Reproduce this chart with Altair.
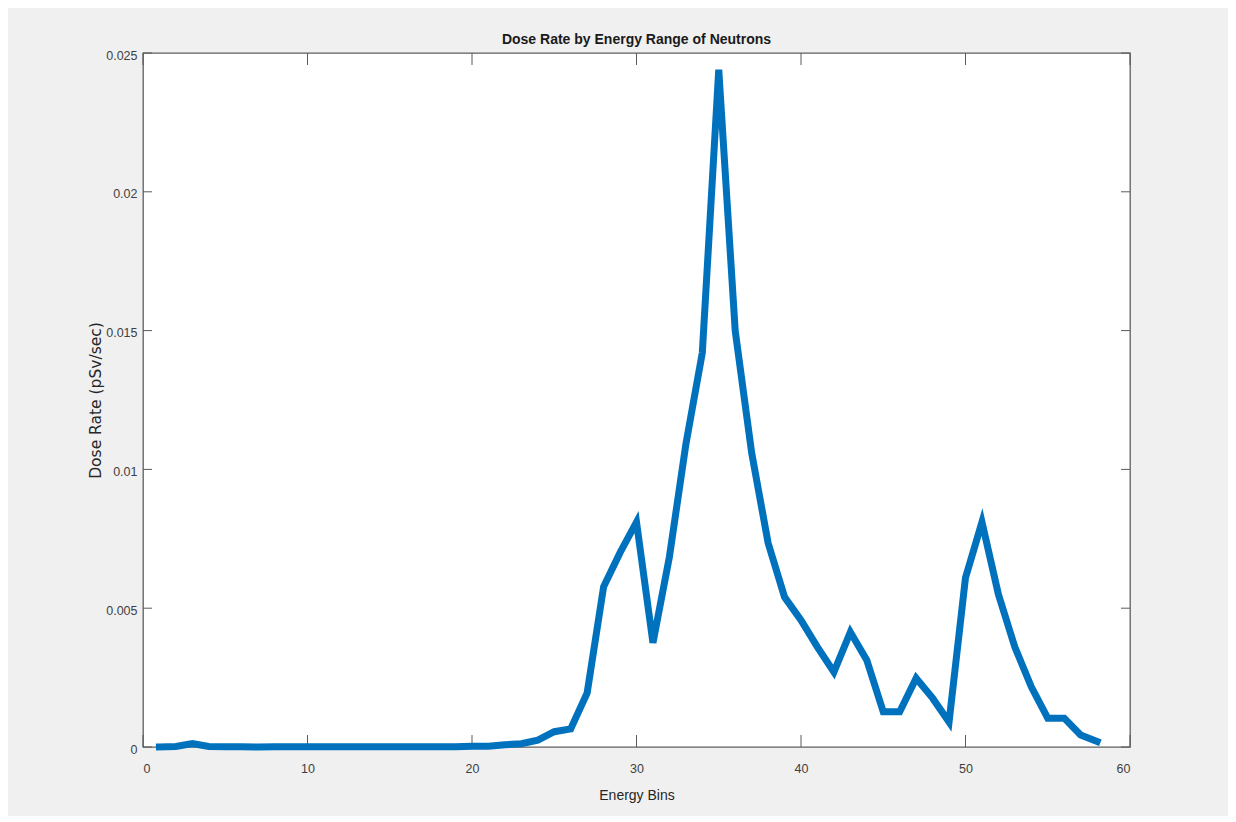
import altair as alt
import pandas as pd

# Data
energy_bins = list(range(1, 59))
dose_rate = [
    0.0, 0.00002, 0.00012, 0.00002, 0.00001, 0.00001, 0.0, 0.00001, 0.00001, 0.00001,
    0.00001, 0.00001, 0.00001, 0.00001, 0.00001, 0.00001, 0.00001, 0.00001, 0.00001, 0.00003,
    0.00003, 0.00008, 0.00012, 0.00025, 0.00055, 0.00065, 0.00195, 0.00577, 0.0070, 0.0081,
    0.00375, 0.00685, 0.0109, 0.0142, 0.0244, 0.0150, 0.0106, 0.00735, 0.0054, 0.00457,
    0.0036, 0.0027, 0.00414, 0.00313, 0.00127, 0.00127, 0.00248, 0.00176, 0.0009, 0.0061,
    0.0081, 0.0055, 0.0036, 0.00217, 0.00104, 0.00104, 0.00043, 0.0002,
]
x_ticks = [0, 10, 20, 30, 40, 50, 60]
y_ticks = [0, 0.005, 0.01, 0.015, 0.02, 0.025]

W, H = 987, 694
FONT = "Liberation Sans"
TICK_COLOR = "#5a5a5a"
LABEL_COLOR = "#404040"

df = pd.DataFrame({"bin": energy_bins, "dose": dose_rate})
xt = pd.DataFrame({"t": x_ticks})
yt = pd.DataFrame({"t": y_ticks})

x_scale = alt.Scale(domain=[0, 60], nice=False, zero=False)
y_scale = alt.Scale(domain=[0, 0.025], nice=False)

x_axis = alt.Axis(
    values=x_ticks, grid=False, domain=False, ticks=False, tickSize=0,
    labelPadding=15, labelFont=FONT, labelFontSize=12.5, labelColor=LABEL_COLOR,
    title="Energy Bins", titleFont=FONT, titleFontSize=14, titleFontWeight="normal",
    titleColor="#262626", titleX=W / 2, titleY=48, titleBaseline="middle", titleAlign="center",
)
y_axis = alt.Axis(
    values=y_ticks, format="~g", grid=False, domain=False, ticks=False, tickSize=0,
    labelPadding=6, labelOffset=2, labelFont=FONT, labelFontSize=12.5, labelColor=LABEL_COLOR,
    title="Dose Rate (pSv/sec)", titleFont="DejaVu Sans", titleFontSize=15.5,
    titleFontWeight="normal", titleColor="#262626", titleX=-48, titleY=H / 2,
    titleAngle=-90, titleBaseline="middle", titleAlign="center",
)

line = alt.Chart(df).mark_line(
    color="#0072BD", strokeWidth=7, strokeCap="square"
).encode(
    x=alt.X("bin:Q", scale=x_scale, axis=x_axis),
    y=alt.Y("dose:Q", scale=y_scale, axis=y_axis),
)

xt_bottom = alt.Chart(xt).mark_rule(color=TICK_COLOR, strokeWidth=1).encode(
    x=alt.X("t:Q", scale=x_scale), y=alt.value(H), y2=alt.value(H - 12)
)
xt_top = alt.Chart(xt).mark_rule(color=TICK_COLOR, strokeWidth=1).encode(
    x=alt.X("t:Q", scale=x_scale), y=alt.value(0), y2=alt.value(12)
)
yt_left = alt.Chart(yt).mark_rule(color=TICK_COLOR, strokeWidth=1).encode(
    y=alt.Y("t:Q", scale=y_scale), x=alt.value(0), x2=alt.value(9)
)
yt_right = alt.Chart(yt).mark_rule(color=TICK_COLOR, strokeWidth=1).encode(
    y=alt.Y("t:Q", scale=y_scale), x=alt.value(W), x2=alt.value(W - 9)
)

chart = alt.layer(xt_bottom, xt_top, yt_left, yt_right, line).properties(
    width=W,
    height=H,
    title=alt.TitleParams(
        "Dose Rate by Energy Range of Neutrons", font=FONT, fontSize=14,
        fontWeight="bold", color="#1a1a1a", offset=2, anchor="middle",
    ),
    autosize=alt.AutoSizeParams(type="none"),
    padding={"left": 135, "top": 45, "right": 98, "bottom": 69},
    background="#f0f0f0",
).configure_view(
    fill="white", stroke="#5f5f5f", strokeWidth=1.3
)

chart.save("out.html", embed_options={"renderer": "svg", "actions": False})
